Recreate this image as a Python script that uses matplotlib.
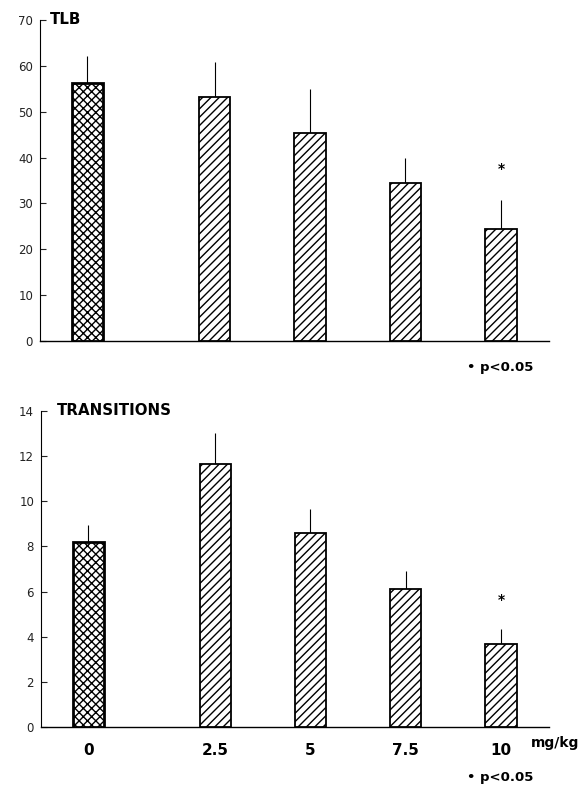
import matplotlib
matplotlib.use("Agg")
import matplotlib.pyplot as plt
import numpy as np

plt.rcParams['font.family'] = ['DejaVu Sans']
plt.rcParams['hatch.linewidth'] = 1.0

doses = ["0", "2.5", "5", "7.5", "10"]
positions = [0, 1.335, 2.335, 3.335, 4.34]

tlb_mean = [56.2, 53.2, 45.3, 34.4, 24.5]
tlb_sem = [5.9, 7.6, 9.6, 5.6, 6.3]
tlb_star = 37.4

trans_mean = [8.21, 11.65, 8.58, 6.1, 3.67]
trans_sem = [0.74, 1.35, 1.07, 0.82, 0.68]
trans_star = 5.63

hatches = ['xxxx', '////', '////', '////', '////']

W, H = 587, 789
fig = plt.figure(figsize=(W/100, H/100), dpi=100)

def px_axes(x0, x1, ytop, ybot):
    return fig.add_axes([x0/W, 1-ybot/H, (x1-x0)/W, (ybot-ytop)/H])

ax1 = px_axes(40, 549, 20, 341)
ax2 = px_axes(41, 549, 410.7, 727.3)

def draw(ax, means, sems, ymax, ystep, title, title_x, star_y, show_x):
    for i, (p, m, h) in enumerate(zip(positions, means, hatches)):
        lw = 2.0 if i == 0 else 1.3
        ax.bar(p, m, width=0.33, color='white', edgecolor='black',
               hatch=h, linewidth=lw, zorder=3)
    ax.errorbar(positions, means, yerr=[np.zeros(len(sems)), sems],
                fmt='none', ecolor='black', elinewidth=0.8, capsize=0, zorder=2)
    ax.text(positions[-1], star_y, '*', ha='center', va='center',
            fontsize=10, fontweight='bold')
    ax.set_xlim(-0.497, 4.843)
    ax.set_ylim(0, ymax)
    ax.set_yticks(np.arange(0, ymax + 0.01, ystep))
    ax.tick_params(axis='y', direction='in', length=4, width=0.8,
                   labelsize=8.5, pad=5, colors='#222222')
    ax.spines['top'].set_visible(False)
    ax.spines['right'].set_visible(False)
    ax.spines['left'].set_linewidth(0.8)
    ax.spines['bottom'].set_linewidth(1.0)
    ax.text(title_x, 1.0, title, transform=ax.transAxes, ha='left', va='center',
            fontsize=10.8, fontweight='bold')
    if show_x:
        ax.set_xticks(positions)
        ax.set_xticklabels(doses, fontsize=11, fontweight='bold')
        ax.tick_params(axis='x', length=0, pad=11)
    else:
        ax.set_xticks([])

draw(ax1, tlb_mean, tlb_sem, 70, 10, 'TLB', 0.02, tlb_star, False)
draw(ax2, trans_mean, trans_sem, 14, 2, 'TRANSITIONS', 0.031, trans_star, True)

fig.text(467/W, 1-367/H, '• p<0.05', ha='left', va='center',
         fontsize=9.5, fontweight='bold')
fig.text(467/W, 1-778/H, '• p<0.05', ha='left', va='center',
         fontsize=9.5, fontweight='bold')
fig.text(531/W, 1-743/H, 'mg/kg', ha='left', va='center',
         fontsize=10, fontweight='bold')

fig.savefig('out.png', dpi=100)
